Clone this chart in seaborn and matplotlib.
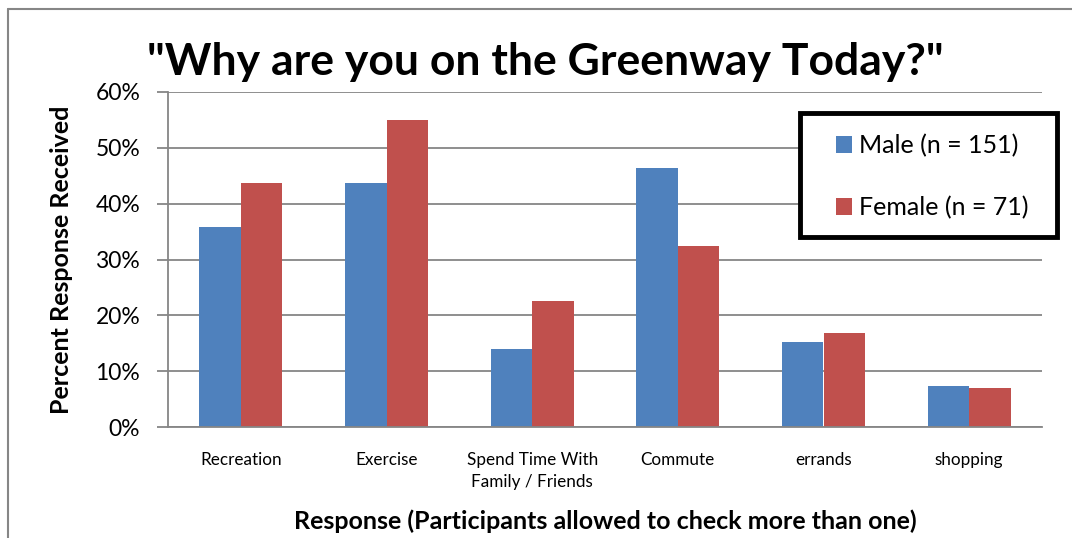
import matplotlib
matplotlib.use("Agg")
import matplotlib.pyplot as plt
import matplotlib.lines as mlines
from matplotlib.patches import Rectangle
import seaborn as sns
import pandas as pd
from matplotlib.ticker import PercentFormatter

# Survey responses (share of respondents choosing each reason)
categories = ["Recreation", "Exercise", "Spend Time With\nFamily / Friends",
              "Commute", "errands", "shopping"]
male_pct = [35.8, 43.7, 13.9, 46.4, 15.2, 7.3]
female_pct = [43.7, 54.9, 22.5, 32.4, 16.9, 7.0]
series_names = ["Male (n = 151)", "Female (n = 71)"]
y_ticks = [0, 10, 20, 30, 40, 50, 60]

df = pd.DataFrame({
    "category": categories * 2,
    "pct": male_pct + female_pct,
    "group": [series_names[0]] * len(categories) + [series_names[1]] * len(categories),
})

sns.set_theme(style="white")
plt.rcParams["font.family"] = ["Lato", "DejaVu Sans"]
plt.rcParams["text.color"] = "black"
plt.rcParams["axes.labelcolor"] = "black"

W, H = 1072, 538
fig = plt.figure(figsize=(W / 100, H / 100), dpi=100)
ax = fig.add_axes([168 / W, 1 - 427 / H, (1042 - 168) / W, (427 - 92) / H])

grid_gray = "#868686"
sns.barplot(data=df, x="category", y="pct", hue="group", ax=ax,
            palette=["#4F81BD", "#C0504D"], width=0.57, saturation=1,
            edgecolor="none", linewidth=0, legend=True)

ax.set_ylim(0, 60)
ax.set_xlim(-0.5, len(categories) - 0.5)
ax.set_yticks(y_ticks)
ax.yaxis.set_major_formatter(PercentFormatter(decimals=0))
ax.yaxis.grid(True, color=grid_gray, linewidth=1.3)
ax.set_axisbelow(True)

for side in ["top", "right"]:
    ax.spines[side].set_visible(False)
for side in ["left", "bottom"]:
    ax.spines[side].set_color(grid_gray)
    ax.spines[side].set_linewidth(1.3)

ax.tick_params(axis="y", left=True, length=8, width=1.3, color=grid_gray,
               labelsize=16.5, pad=12, labelcolor="black")
ax.tick_params(axis="x", bottom=False, labelsize=12.3, pad=12, labelcolor="black")
for lbl in ax.get_xticklabels():
    lbl.set_linespacing(1.45)

ax.set_xlabel("Response (Participants allowed to check more than one)",
              fontsize=18, fontweight="bold", labelpad=14)
ax.set_ylabel("Percent Response Received", fontsize=18, fontweight="bold",
              labelpad=16)

# Legend box with a heavy black frame
box = Rectangle((800 / W, 1 - 237 / H), 257 / W, 124 / H, transform=fig.transFigure,
                facecolor="white", edgecolor="black", linewidth=3.5,
                clip_on=False, zorder=4)
ax.add_patch(box)

leg = ax.legend(loc="upper left", bbox_transform=fig.transFigure,
                bbox_to_anchor=(836 / W, 1 - 134 / H),
                frameon=False, fontsize=18, labelspacing=1.55,
                handlelength=0.62, handleheight=0.62, handletextpad=0.3,
                borderpad=0, borderaxespad=0, title=None)
leg.set_zorder(6)

fig.text(545 / W, 1 - 62 / H, '"Why are you on the Greenway Today?"',
         ha="center", va="center", fontsize=32, fontweight="bold")

# Chart-area border on the left and top edges
fig.add_artist(mlines.Line2D([8 / W, 8 / W], [0, 1 - 9 / H],
                             transform=fig.transFigure, color=grid_gray, linewidth=1.5))
fig.add_artist(mlines.Line2D([8 / W, 1], [1 - 9 / H, 1 - 9 / H],
                             transform=fig.transFigure, color=grid_gray, linewidth=1.5))

fig.savefig("out.png", dpi=100)
